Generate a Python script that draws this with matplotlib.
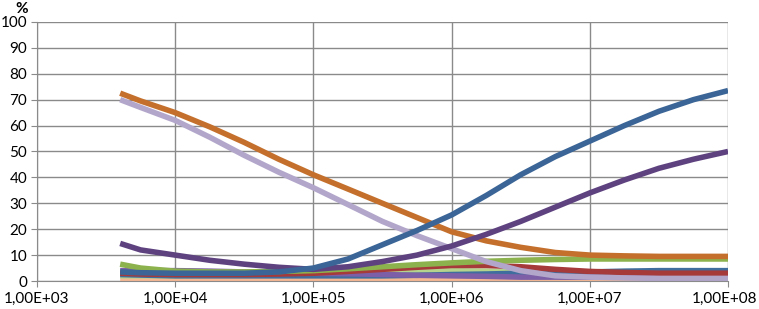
import matplotlib
matplotlib.use("Agg")
import matplotlib.pyplot as plt
import matplotlib.transforms as mtransforms
from matplotlib.ticker import FixedLocator, FuncFormatter

# 横轴取值（对数坐标，每 1/4 个数量级一个点）
x = [4e3, 5.62e3, 1e4, 1.78e4, 3.16e4, 5.62e4, 1e5, 1.78e5, 3.16e5, 5.62e5,
     1e6, 1.78e6, 3.16e6, 5.62e6, 1e7, 1.78e7, 3.16e7, 5.62e7, 1e8]

# 各条曲线（单位 %）
peach = [1, 1, 1, 1, 1, 1, 1, 1, 1, 1, 1, 1, 1, 0.9, 0.8, 0.8, 0.8, 0.8, 0.8]
light_green = [2, 2, 2, 2.2, 2.5, 2.7, 3, 3.2, 3.5, 3.8, 4, 3.8, 3.5, 3, 2.5, 2.2, 2, 2, 2]
teal = [2.5, 2.3, 2, 2, 2, 2, 2, 2, 2, 2.2, 2.5, 2.7, 3, 3.3, 3.5, 3.8, 4, 4, 4]
mid_purple = [4, 4, 4, 3.8, 3.5, 3.2, 3, 2.8, 2.5, 2.2, 2, 1.8, 1.5, 1.5, 1.5, 1.5, 1.5, 1.5, 1.5]
red = [3, 2.7, 2.5, 2.5, 2.5, 2.7, 3, 3.7, 4.5, 5.3, 6, 6, 5.5, 4.5, 3.7, 3.3, 3, 3, 3]
green = [6.5, 5, 3.8, 3.5, 3.5, 3.7, 4, 4.7, 5.5, 6.3, 7, 7.6, 8, 8.3, 8.5, 8.5, 8.5, 8.5, 8.5]
dark_purple = [14.5, 12, 10, 8, 6.5, 5.3, 4.5, 5.5, 7.5, 10, 13.5, 18, 23, 28.5, 34, 39, 43.5, 47, 50]
light_purple = [70, 67, 62, 55.5, 48.5, 42, 36, 29.5, 23, 17.5, 12.5, 7.5, 4, 2, 1.5, 1.2, 1, 1, 1]
orange = [72.5, 69.5, 65, 59.5, 53.5, 47, 41, 35.5, 30, 24.5, 19, 15.5, 13, 11, 10, 9.7, 9.5, 9.5, 9.5]
blue = [3.5, 3.2, 3, 3, 3, 3.5, 5, 8.5, 14, 19.5, 25.5, 33, 41, 48, 54, 60, 65.5, 70, 73.5]

series = [
    (peach, "#F5B893"),
    (light_green, "#B5D38C"),
    (teal, "#3F6E9E"),
    (mid_purple, "#7C5FA6"),
    (red, "#A6393A"),
    (green, "#8CB24E"),
    (light_purple, "#B2A6CB"),
    (orange, "#C4702C"),
    (dark_purple, "#5E4280"),
    (blue, "#3A6596"),
]

plt.rcParams["font.family"] = ["Lato", "DejaVu Sans"]

fig = plt.figure(figsize=(7.59, 3.09), dpi=100)
ax = fig.add_axes([0.0487, 0.0906, 0.9105, 0.8384])

for vals, c in series:
    ax.plot(x, vals, color=c, linewidth=4.0, solid_capstyle="butt", solid_joinstyle="round")

ax.set_xscale("log")
ax.set_xlim(1e3, 1e8)
ax.set_ylim(0, 100)

ax.xaxis.set_major_locator(FixedLocator([1e3, 1e4, 1e5, 1e6, 1e7, 1e8]))
ax.xaxis.set_minor_locator(FixedLocator([]))
ax.xaxis.set_major_formatter(FuncFormatter(lambda v, p: ("%.2E" % v).replace(".", ",")))
ax.set_yticks(range(0, 101, 10))

ax.grid(True, color="#8A8A8A", linewidth=1)
ax.set_axisbelow(True)
for s in ["top", "right"]:
    ax.spines[s].set_visible(False)
for s in ["left", "bottom"]:
    ax.spines[s].set_color("#8A8A8A")
ax.tick_params(axis="both", length=4, color="#8A8A8A", labelsize=11, labelcolor="black")
ax.tick_params(axis="x", pad=4)
ax.tick_params(axis="y", pad=3)

# 最右边的刻度标签往左挪一点，免得被裁掉
last = ax.get_xticklabels()[-1]
last.set_transform(last.get_transform() + mtransforms.ScaledTranslation(-4 / 100, 0, fig.dpi_scale_trans))

fig.text(0.028, 0.972, "%", fontsize=11, fontweight="bold", ha="center", va="center")

fig.savefig("out.png", dpi=100)
